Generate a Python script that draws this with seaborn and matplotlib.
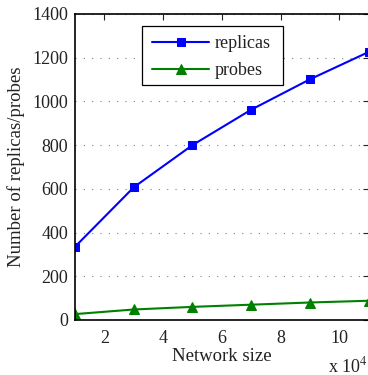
import matplotlib
matplotlib.use("Agg")
import matplotlib.pyplot as plt
import matplotlib.patches as mpatches
import seaborn as sns
import pandas as pd
from matplotlib.ticker import FuncFormatter, FixedLocator

network_size = [10000, 30000, 50000, 70000, 90000, 110000]
replicas = [335, 607, 800, 962, 1101, 1226]
probes = [27, 48, 60, 70, 80, 88]
x_ticks = [20000, 40000, 60000, 80000, 100000]
y_ticks = [0, 200, 400, 600, 800, 1000, 1200, 1400]

sns.set_theme(style="white")
plt.rcParams['font.family'] = ['Liberation Serif', 'DejaVu Serif']
plt.rcParams['mathtext.fontset'] = 'stix'

df = pd.DataFrame({"size": network_size * 2,
                   "value": replicas + probes,
                   "series": ["replicas"] * 6 + ["probes"] * 6})

W, H = 368, 375
fig = plt.figure(figsize=(W / 100, H / 100), dpi=100)
ax = fig.add_axes([0.2038, 0.1467, 0.7978, 0.816])

sns.lineplot(data=df[df.series == "replicas"], x="size", y="value", ax=ax,
             color="#0000ff", marker="s", markersize=6, markeredgecolor="#0000ff",
             linewidth=1.5, label="replicas")
sns.lineplot(data=df[df.series == "probes"], x="size", y="value", ax=ax,
             color="#008000", marker="^", markersize=7.5, markeredgecolor="#008000",
             linewidth=1.5, label="probes")

ax.set_xlim(10000, 110000)
ax.set_ylim(0, 1400)
ax.xaxis.set_major_locator(FixedLocator(x_ticks))
ax.yaxis.set_major_locator(FixedLocator(y_ticks))
ax.xaxis.set_major_formatter(FuncFormatter(lambda v, p: f"{v/1e4:g}"))
ax.yaxis.grid(True, color="#808080", linestyle=(0, (1, 6.5)), linewidth=0.8)
ax.xaxis.grid(False)
ax.tick_params(direction="in", length=4, width=0.8, top=True, right=True,
               labelsize=13, colors="#222222")
ax.tick_params(axis="x", pad=7)
ax.tick_params(axis="y", pad=5)
for s in ax.spines.values():
    s.set_color("black")
    s.set_linewidth(1.2)

ax.set_xlabel("Network size", fontsize=13.5, labelpad=1, color="#222222")
ax.set_ylabel("Number of replicas/probes", fontsize=13.5, labelpad=5, color="#222222")

# legend frame box (styling)
box = mpatches.Rectangle((142 / W, 1 - 85 / H), 141 / W, 59 / H,
                         transform=fig.transFigure, facecolor="white",
                         edgecolor="black", linewidth=0.9, zorder=4.5)
ax.add_patch(box)
box.set_clip_on(False)

leg = ax.legend(loc="upper left", bbox_to_anchor=((152 - 75) / 293.6, (320 - 35) / 306),
                fontsize=13, frameon=False, borderpad=0, borderaxespad=0,
                handlelength=3.16, labelspacing=0.55, handletextpad=0.33)
leg.set_zorder(5)
for t in leg.get_texts():
    t.set_color("#222222")

fig.text(328 / W, 1 - 372 / H, r"x 10$^{4}$", fontsize=13, color="#222222",
         ha="left", va="baseline")

fig.savefig("out.png", dpi=100)
